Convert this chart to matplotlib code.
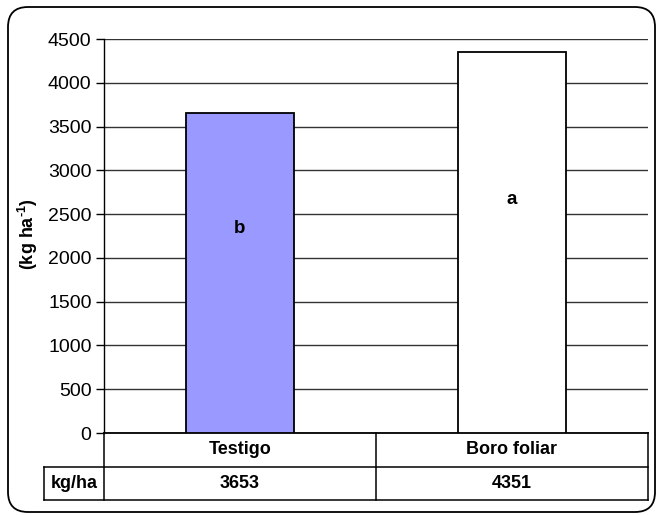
import matplotlib
matplotlib.use("Agg")
import matplotlib.pyplot as plt
from matplotlib.patches import FancyBboxPatch
from matplotlib.lines import Line2D

# datos del gráfico
tratamientos = ["Testigo", "Boro foliar"]
rendimiento = [3653, 4351]
letras = ["b", "a"]
letra_y = [2340, 2670]          # altura de la letra de significancia
colores = ["#9999FF", "#FFFFFF"]
fila_label = "kg/ha"
yticks = list(range(0, 4501, 500))

plt.rcParams["font.family"] = ["Liberation Sans", "DejaVu Sans"]
plt.rcParams["mathtext.fontset"] = "custom"
plt.rcParams["mathtext.rm"] = "Liberation Sans:bold"
plt.rcParams["mathtext.bf"] = "Liberation Sans:bold"

W, H = 658, 515
fig = plt.figure(figsize=(W / 100, H / 100), dpi=100)

# coordenadas en píxeles -> fracción de figura
def fx(px):
    return px / W

def fy(py):
    return 1 - py / H

left, right, top, bottom = 104, 648, 39, 433
ax = fig.add_axes([fx(left), fy(bottom), fx(right) - fx(left), fy(top) - fy(bottom)])

x = range(len(tratamientos))
ax.bar(x, rendimiento, width=0.4, color=colores, edgecolor="black", linewidth=1.3, zorder=3)
for i, (l, ly) in enumerate(zip(letras, letra_y)):
    ax.text(i, ly, l, ha="center", va="center", fontsize=13.5, fontweight="bold", zorder=4)

ax.set_xlim(-0.5, len(tratamientos) - 0.5)
ax.set_ylim(0, 4500)
ax.set_yticks(yticks)
ax.tick_params(axis="y", labelsize=14, length=6, width=1, direction="out", pad=3)
ax.set_xticks([])
ax.yaxis.grid(True, color="#333333", linewidth=1)
ax.set_axisbelow(True)
for s in ["top", "right"]:
    ax.spines[s].set_visible(False)
ax.spines["left"].set_linewidth(1)
ax.spines["bottom"].set_linewidth(1.3)
ax.set_ylabel(r"(kg ha$^{\text{-1}}$)", fontsize=13, fontweight="bold")
ax.yaxis.set_label_coords(-0.118, 0.505)

# tabla de datos bajo el eje
row1, row2, row3 = 433, 467, 500
cat_edges = [left + (right - left) * i / len(tratamientos) for i in range(len(tratamientos) + 1)]
lw = 1.1
segs = [
    ((left, row1), (left, row3)),
    ((right, row1), (right, row3)),
    ((44, row2), (right, row2)),
    ((44, row3), (right, row3)),
    ((44, row2), (44, row3)),
]
for e in cat_edges[1:-1]:
    segs.append(((e, row1), (e, row3)))
for (x0, y0), (x1, y1) in segs:
    fig.add_artist(Line2D([fx(x0), fx(x1)], [fy(y0), fy(y1)], color="black", linewidth=lw))

for i, (t, v) in enumerate(zip(tratamientos, rendimiento)):
    cx = (cat_edges[i] + cat_edges[i + 1]) / 2
    fig.text(fx(cx), fy((row1 + row2) / 2), t, ha="center", va="center",
             fontsize=13, fontweight="bold")
    fig.text(fx(cx), fy((row2 + row3) / 2), str(v), ha="center", va="center",
             fontsize=13, fontweight="bold")
fig.text(fx(74), fy((row2 + row3) / 2), fila_label, ha="center", va="center",
         fontsize=13, fontweight="bold")

# marco redondeado
marco = FancyBboxPatch((8 / 100, (H - 512) / 100), (655 - 8) / 100, (512 - 7) / 100,
                       boxstyle="round,pad=0,rounding_size=0.2",
                       transform=fig.dpi_scale_trans, fill=False,
                       edgecolor="black", linewidth=1.3)
fig.add_artist(marco)

fig.savefig("out.png", dpi=100)
